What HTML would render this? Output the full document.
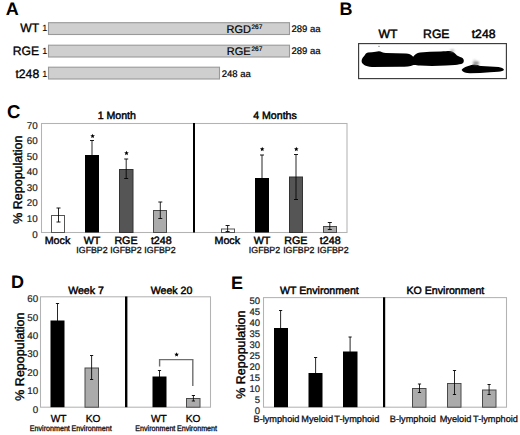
<!DOCTYPE html>
<html><head><meta charset="utf-8"><title>Figure</title>
<style>
html,body{margin:0;padding:0;background:#fff;}
svg{display:block;font-family:"Liberation Sans", sans-serif;text-rendering:geometricPrecision;}
</style></head>
<body>
<svg width="520" height="435" viewBox="0 0 520 435">
<defs><filter id="bl" x="-20%" y="-50%" width="140%" height="200%"><feGaussianBlur stdDeviation="0.45"/></filter><filter id="bl2" x="-100%" y="-100%" width="300%" height="300%"><feGaussianBlur stdDeviation="0.9"/></filter></defs>
<rect x="0" y="0" width="520" height="435" fill="#fff"/>
<text x="5.7" y="15" font-size="18" font-weight="bold" text-anchor="start" fill="#000">A</text>
<text x="39.2" y="31.7" font-size="12.2" text-anchor="end" fill="#000" stroke="#000" stroke-width="0.32">WT</text>
<text x="42.3" y="30.9" font-size="9" text-anchor="start" fill="#000" stroke="#000" stroke-width="0.1">1</text>
<rect x="48.5" y="22.7" width="241" height="11.8" fill="#cfcfcf" stroke="#999" stroke-width="1.1"/>
<text x="39.2" y="55.2" font-size="12.2" text-anchor="end" fill="#000" stroke="#000" stroke-width="0.32">RGE</text>
<text x="42.3" y="54.400000000000006" font-size="9" text-anchor="start" fill="#000" stroke="#000" stroke-width="0.1">1</text>
<rect x="48.5" y="45.2" width="241" height="11.8" fill="#cfcfcf" stroke="#999" stroke-width="1.1"/>
<text x="39.2" y="77.6" font-size="12.2" text-anchor="end" fill="#000" stroke="#000" stroke-width="0.32">t248</text>
<text x="42.3" y="76.8" font-size="9" text-anchor="start" fill="#000" stroke="#000" stroke-width="0.1">1</text>
<rect x="48.5" y="67.2" width="171" height="11.8" fill="#cfcfcf" stroke="#999" stroke-width="1.1"/>
<text x="226.6" y="33" font-size="11" text-anchor="start" fill="#000" stroke="#000" stroke-width="0.2">RGD</text>
<text x="251.5" y="29" font-size="6.5" text-anchor="start" fill="#000" stroke="#000" stroke-width="0.2">267</text>
<text x="226.8" y="55.3" font-size="11" text-anchor="start" fill="#000" stroke="#000" stroke-width="0.2">RGE</text>
<text x="251.5" y="51.3" font-size="6.5" text-anchor="start" fill="#000" stroke="#000" stroke-width="0.2">267</text>
<text x="291.5" y="32" font-size="9.5" text-anchor="start" fill="#000" stroke="#000" stroke-width="0.2">289 aa</text>
<text x="291.5" y="54.3" font-size="9.5" text-anchor="start" fill="#000" stroke="#000" stroke-width="0.2">289 aa</text>
<text x="221.8" y="77" font-size="9.5" text-anchor="start" fill="#000" stroke="#000" stroke-width="0.2">248 aa</text>
<text x="339.5" y="14.5" font-size="18" font-weight="bold" text-anchor="start" fill="#000">B</text>
<text x="388" y="38.0" font-size="12.2" text-anchor="middle" fill="#000" stroke="#000" stroke-width="0.45">WT</text>
<text x="436.3" y="38.0" font-size="12.2" text-anchor="middle" fill="#000" stroke="#000" stroke-width="0.45">RGE</text>
<text x="483.6" y="38" font-size="12.2" text-anchor="middle" fill="#000" stroke="#000" stroke-width="0.45">t248</text>
<rect x="358.6" y="43.6" width="147.8" height="35" fill="none" stroke="#3a3a3a" stroke-width="1.15"/>
<path d="M361.6,61 C361.6,59.2 362.6,57.6 364,56.2 C365.4,54.6 365.8,53 368,52.6 L372,52.3 C375,52.1 377,51.1 379,51.2 C381,51.4 383,52.8 386,53 L396,53.2 L406,53.6 C409,53.8 411,54.5 413.2,56.8 C414.8,54.4 416.8,53 420,52.5 L430,51.8 L441,51.5 C445,51.3 448,51 451,51.1 C453.5,51.6 455,53.6 457,55.4 C459,56.6 461.5,57.2 462.8,58.2 C464.2,59.6 464.2,62 462.8,63.2 C461,64.2 458,64.6 455,64.9 C452,65.2 449,65.3 446,65.5 L432,66 L420,65.6 C416.5,65.2 414.5,64.6 412.8,65.2 C410.5,66.2 406,66.7 400,66.7 L372,66.9 C368.5,66.7 366,66 364.2,64.9 C362.6,63.9 361.6,62.6 361.6,61 Z" fill="#000" filter="url(#bl)"/>
<path d="M461.6,70 C462.2,68.6 464.5,67.2 467.5,66.2 C469.5,65.4 471.5,64.5 474.5,64.4 C477,64.4 478.8,65.5 481,66 L490,66.4 L498.5,67 C501.5,67.4 503.3,68.4 504,69.7 C503.6,70.7 501.5,71.3 498,71.7 L490,72.3 L480,72.9 L470,73.3 C466,73.2 463,72.2 461.6,70 Z" fill="#000" filter="url(#bl)"/>
<ellipse cx="452.2" cy="50.6" rx="2.2" ry="1.2" fill="#aaa" filter="url(#bl2)"/>
<ellipse cx="476" cy="63" rx="3.2" ry="1.8" fill="#888" filter="url(#bl2)"/>
<ellipse cx="474.6" cy="60.5" rx="0.8" ry="1.0" fill="#bbb" filter="url(#bl2)"/>
<ellipse cx="379" cy="46.3" rx="0.8" ry="0.5" fill="#777"/>
<text x="6.9" y="117.9" font-size="18.5" font-weight="bold" text-anchor="start" fill="#000">C</text>
<rect x="41.5" y="123.5" width="305.5" height="109.0" fill="none" stroke="#b3b3b3" stroke-width="1.05"/>
<text x="37.6" y="237.6" font-size="9.8" text-anchor="end" fill="#222" stroke="#222" stroke-width="0.2">0</text>
<text x="37.6" y="222.03" font-size="9.8" text-anchor="end" fill="#222" stroke="#222" stroke-width="0.2">10</text>
<text x="37.6" y="206.46" font-size="9.8" text-anchor="end" fill="#222" stroke="#222" stroke-width="0.2">20</text>
<text x="37.6" y="190.89" font-size="9.8" text-anchor="end" fill="#222" stroke="#222" stroke-width="0.2">30</text>
<text x="37.6" y="175.31" font-size="9.8" text-anchor="end" fill="#222" stroke="#222" stroke-width="0.2">40</text>
<text x="37.6" y="159.74" font-size="9.8" text-anchor="end" fill="#222" stroke="#222" stroke-width="0.2">50</text>
<text x="37.6" y="144.17" font-size="9.8" text-anchor="end" fill="#222" stroke="#222" stroke-width="0.2">60</text>
<text x="37.6" y="128.6" font-size="9.8" text-anchor="end" fill="#222" stroke="#222" stroke-width="0.2">70</text>
<text x="22.0" y="179.7" font-size="12.5" text-anchor="middle" fill="#000" stroke="#000" stroke-width="0.4" transform="rotate(-90 22.0 179.7)">% Repopulation</text>
<text x="116.8" y="119" font-size="10.6" text-anchor="middle" fill="#000" stroke="#000" stroke-width="0.45">1 Month</text>
<text x="275" y="119" font-size="10.6" text-anchor="middle" fill="#000" stroke="#000" stroke-width="0.45">4 Months</text>
<rect x="193" y="123.0" width="2" height="109.5" fill="#000"/>
<rect x="51.5" y="215.5" width="13" height="17.0" fill="#fff" stroke="#555" stroke-width="1"/>
<line x1="58.5" y1="208" x2="58.5" y2="222" stroke="#000" stroke-width="0.85"/>
<line x1="56.5" y1="208" x2="60.5" y2="208" stroke="#000" stroke-width="0.9"/>
<line x1="56.5" y1="222" x2="60.5" y2="222" stroke="#000" stroke-width="0.9"/>
<rect x="85" y="155" width="14" height="77.5" fill="#000"/>
<line x1="92" y1="140.5" x2="92" y2="169.5" stroke="#000" stroke-width="0.85"/>
<line x1="90.0" y1="140.5" x2="94.0" y2="140.5" stroke="#000" stroke-width="0.9"/>
<line x1="90.0" y1="169.5" x2="94.0" y2="169.5" stroke="#000" stroke-width="0.9"/>
<rect x="119.5" y="169.5" width="13.5" height="63.0" fill="#555" stroke="#333" stroke-width="1"/>
<line x1="126.2" y1="159" x2="126.2" y2="178.5" stroke="#000" stroke-width="0.85"/>
<line x1="124.2" y1="159" x2="128.2" y2="159" stroke="#000" stroke-width="0.9"/>
<line x1="124.2" y1="178.5" x2="128.2" y2="178.5" stroke="#000" stroke-width="0.9"/>
<rect x="153.5" y="210.5" width="13" height="22.0" fill="#ababab" stroke="#4a4a4a" stroke-width="1"/>
<line x1="160.3" y1="202" x2="160.3" y2="218.5" stroke="#000" stroke-width="0.85"/>
<line x1="158.3" y1="202" x2="162.3" y2="202" stroke="#000" stroke-width="0.9"/>
<line x1="158.3" y1="218.5" x2="162.3" y2="218.5" stroke="#000" stroke-width="0.9"/>
<polygon points="92.60,133.70 93.23,135.23 94.88,135.36 93.63,136.43 94.01,138.04 92.60,137.18 91.19,138.04 91.57,136.43 90.32,135.36 91.97,135.23" fill="#000"/>
<polygon points="126.50,150.80 127.13,152.33 128.78,152.46 127.53,153.53 127.91,155.14 126.50,154.28 125.09,155.14 125.47,153.53 124.22,152.46 125.87,152.33" fill="#000"/>
<rect x="221.5" y="229.0" width="13" height="3.5" fill="#fff" stroke="#555" stroke-width="1"/>
<line x1="227.6" y1="225.5" x2="227.6" y2="231.5" stroke="#000" stroke-width="0.85"/>
<line x1="225.6" y1="225.5" x2="229.6" y2="225.5" stroke="#000" stroke-width="0.9"/>
<line x1="225.6" y1="231.5" x2="229.6" y2="231.5" stroke="#000" stroke-width="0.9"/>
<rect x="255" y="178" width="14" height="54.5" fill="#000"/>
<line x1="262" y1="155" x2="262" y2="201" stroke="#000" stroke-width="0.85"/>
<line x1="260.0" y1="155" x2="264.0" y2="155" stroke="#000" stroke-width="0.9"/>
<line x1="260.0" y1="201" x2="264.0" y2="201" stroke="#000" stroke-width="0.9"/>
<rect x="289.5" y="177.0" width="13" height="55.5" fill="#555" stroke="#333" stroke-width="1"/>
<line x1="296" y1="154.5" x2="296" y2="199.5" stroke="#000" stroke-width="0.85"/>
<line x1="294.0" y1="154.5" x2="298.0" y2="154.5" stroke="#000" stroke-width="0.9"/>
<line x1="294.0" y1="199.5" x2="298.0" y2="199.5" stroke="#000" stroke-width="0.9"/>
<rect x="323.5" y="226.5" width="13" height="6.0" fill="#ababab" stroke="#4a4a4a" stroke-width="1"/>
<line x1="329.8" y1="222.5" x2="329.8" y2="229.5" stroke="#000" stroke-width="0.85"/>
<line x1="327.8" y1="222.5" x2="331.8" y2="222.5" stroke="#000" stroke-width="0.9"/>
<line x1="327.8" y1="229.5" x2="331.8" y2="229.5" stroke="#000" stroke-width="0.9"/>
<polygon points="262.20,146.80 262.83,148.33 264.48,148.46 263.23,149.53 263.61,151.14 262.20,150.28 260.79,151.14 261.17,149.53 259.92,148.46 261.57,148.33" fill="#000"/>
<polygon points="296.30,146.80 296.93,148.33 298.58,148.46 297.33,149.53 297.71,151.14 296.30,150.28 294.89,151.14 295.27,149.53 294.02,148.46 295.67,148.33" fill="#000"/>
<text x="57.5" y="244" font-size="10.7" text-anchor="middle" fill="#000" stroke="#000" stroke-width="0.42">Mock</text>
<text x="92" y="244" font-size="10.7" text-anchor="middle" fill="#000" stroke="#000" stroke-width="0.42">WT</text>
<text x="126" y="244" font-size="10.7" text-anchor="middle" fill="#000" stroke="#000" stroke-width="0.42">RGE</text>
<text x="161.3" y="244" font-size="10.7" text-anchor="middle" fill="#000" stroke="#000" stroke-width="0.42">t248</text>
<text x="227.3" y="244" font-size="10.7" text-anchor="middle" fill="#000" stroke="#000" stroke-width="0.42">Mock</text>
<text x="262" y="244" font-size="10.7" text-anchor="middle" fill="#000" stroke="#000" stroke-width="0.42">WT</text>
<text x="295.8" y="244" font-size="10.7" text-anchor="middle" fill="#000" stroke="#000" stroke-width="0.42">RGE</text>
<text x="330.2" y="244" font-size="10.7" text-anchor="middle" fill="#000" stroke="#000" stroke-width="0.42">t248</text>
<text x="92" y="252.6" font-size="8.8" text-anchor="middle" fill="#111" stroke="#111" stroke-width="0.3">IGFBP2</text>
<text x="126" y="252.6" font-size="8.8" text-anchor="middle" fill="#111" stroke="#111" stroke-width="0.3">IGFBP2</text>
<text x="160" y="252.6" font-size="8.8" text-anchor="middle" fill="#111" stroke="#111" stroke-width="0.3">IGFBP2</text>
<text x="264.5" y="252.6" font-size="8.8" text-anchor="middle" fill="#111" stroke="#111" stroke-width="0.3">IGFBP2</text>
<text x="298.8" y="252.6" font-size="8.8" text-anchor="middle" fill="#111" stroke="#111" stroke-width="0.3">IGFBP2</text>
<text x="333" y="252.6" font-size="8.8" text-anchor="middle" fill="#111" stroke="#111" stroke-width="0.3">IGFBP2</text>
<text x="11.0" y="287.5" font-size="18" font-weight="bold" text-anchor="start" fill="#000">D</text>
<rect x="40.5" y="296.8" width="170" height="110.39999999999998" fill="none" stroke="#b3b3b3" stroke-width="1.05"/>
<text x="38.2" y="412.5" font-size="9.8" text-anchor="end" fill="#222" stroke="#222" stroke-width="0.2">0</text>
<text x="38.2" y="394.1" font-size="9.8" text-anchor="end" fill="#222" stroke="#222" stroke-width="0.2">10</text>
<text x="38.2" y="375.7" font-size="9.8" text-anchor="end" fill="#222" stroke="#222" stroke-width="0.2">20</text>
<text x="38.2" y="357.3" font-size="9.8" text-anchor="end" fill="#222" stroke="#222" stroke-width="0.2">30</text>
<text x="38.2" y="338.9" font-size="9.8" text-anchor="end" fill="#222" stroke="#222" stroke-width="0.2">40</text>
<text x="38.2" y="320.5" font-size="9.8" text-anchor="end" fill="#222" stroke="#222" stroke-width="0.2">50</text>
<text x="38.2" y="302.1" font-size="9.8" text-anchor="end" fill="#222" stroke="#222" stroke-width="0.2">60</text>
<text x="23.6" y="356.6" font-size="12.5" text-anchor="middle" fill="#000" stroke="#000" stroke-width="0.4" transform="rotate(-90 23.6 356.6)">% Repopulation</text>
<text x="86" y="294" font-size="10.6" text-anchor="middle" fill="#000" stroke="#000" stroke-width="0.45">Week 7</text>
<text x="171.6" y="294" font-size="10.6" text-anchor="middle" fill="#000" stroke="#000" stroke-width="0.45">Week 20</text>
<rect x="125" y="296.5" width="2.4" height="110.69999999999997" fill="#000"/>
<rect x="50.5" y="320.5" width="14.0" height="86.69999999999999" fill="#000"/>
<line x1="57.5" y1="303.5" x2="57.5" y2="337.5" stroke="#000" stroke-width="0.85"/>
<line x1="55.9" y1="303.5" x2="59.1" y2="303.5" stroke="#000" stroke-width="0.9"/>
<line x1="55.9" y1="337.5" x2="59.1" y2="337.5" stroke="#000" stroke-width="0.9"/>
<rect x="85.0" y="368.0" width="13.5" height="39.19999999999999" fill="#ababab" stroke="#4a4a4a" stroke-width="1"/>
<line x1="91.6" y1="355.5" x2="91.6" y2="379.5" stroke="#000" stroke-width="0.85"/>
<line x1="90.0" y1="355.5" x2="93.19999999999999" y2="355.5" stroke="#000" stroke-width="0.9"/>
<line x1="90.0" y1="379.5" x2="93.19999999999999" y2="379.5" stroke="#000" stroke-width="0.9"/>
<rect x="152.5" y="376.5" width="14.0" height="30.69999999999999" fill="#000"/>
<line x1="159.5" y1="370.5" x2="159.5" y2="382.5" stroke="#000" stroke-width="0.85"/>
<line x1="157.9" y1="370.5" x2="161.1" y2="370.5" stroke="#000" stroke-width="0.9"/>
<line x1="157.9" y1="382.5" x2="161.1" y2="382.5" stroke="#000" stroke-width="0.9"/>
<rect x="186.5" y="398.5" width="13.5" height="8.699999999999989" fill="#ababab" stroke="#4a4a4a" stroke-width="1"/>
<line x1="193.4" y1="395.5" x2="193.4" y2="401" stroke="#000" stroke-width="0.85"/>
<line x1="191.8" y1="395.5" x2="195.0" y2="395.5" stroke="#000" stroke-width="0.9"/>
<line x1="191.8" y1="401" x2="195.0" y2="401" stroke="#000" stroke-width="0.9"/>
<path d="M159.6,366.5 V359.6 H192.8 V386" fill="none" stroke="#6f6f6f" stroke-width="1.4"/>
<polygon points="176.60,352.20 177.23,353.73 178.88,353.86 177.63,354.93 178.01,356.54 176.60,355.68 175.19,356.54 175.57,354.93 174.32,353.86 175.97,353.73" fill="#000"/>
<text x="58.6" y="422.1" font-size="10.2" text-anchor="middle" fill="#000" stroke="#000" stroke-width="0.3">WT</text>
<text x="93.2" y="422.1" font-size="10.2" text-anchor="middle" fill="#000" stroke="#000" stroke-width="0.3">KO</text>
<text x="158.8" y="422.1" font-size="10.2" text-anchor="middle" fill="#000" stroke="#000" stroke-width="0.3">WT</text>
<text x="193.1" y="422.1" font-size="10.2" text-anchor="middle" fill="#000" stroke="#000" stroke-width="0.3">KO</text>
<text transform="translate(49.8 430.5) scale(1 1.12)" font-size="7.15" text-anchor="middle" fill="#111" stroke="#111" stroke-width="0.3">Environment</text>
<text transform="translate(91.6 430.5) scale(1 1.12)" font-size="7.15" text-anchor="middle" fill="#111" stroke="#111" stroke-width="0.3">Environment</text>
<text transform="translate(155.3 430.5) scale(1 1.12)" font-size="7.15" text-anchor="middle" fill="#111" stroke="#111" stroke-width="0.3">Environment</text>
<text transform="translate(197 430.5) scale(1 1.12)" font-size="7.15" text-anchor="middle" fill="#111" stroke="#111" stroke-width="0.3">Environment</text>
<text x="231.0" y="288.9" font-size="18" font-weight="bold" text-anchor="start" fill="#000">E</text>
<rect x="263.5" y="297.6" width="243" height="109.59999999999997" fill="none" stroke="#b3b3b3" stroke-width="1.05"/>
<text x="260.0" y="413.7" font-size="9.5" text-anchor="end" fill="#222" stroke="#222" stroke-width="0.2">0</text>
<text x="260.0" y="402.74" font-size="9.5" text-anchor="end" fill="#222" stroke="#222" stroke-width="0.2">5</text>
<text x="260.0" y="391.78" font-size="9.5" text-anchor="end" fill="#222" stroke="#222" stroke-width="0.2">10</text>
<text x="260.0" y="380.82" font-size="9.5" text-anchor="end" fill="#222" stroke="#222" stroke-width="0.2">15</text>
<text x="260.0" y="369.86" font-size="9.5" text-anchor="end" fill="#222" stroke="#222" stroke-width="0.2">20</text>
<text x="260.0" y="358.9" font-size="9.5" text-anchor="end" fill="#222" stroke="#222" stroke-width="0.2">25</text>
<text x="260.0" y="347.94" font-size="9.5" text-anchor="end" fill="#222" stroke="#222" stroke-width="0.2">30</text>
<text x="260.0" y="336.98" font-size="9.5" text-anchor="end" fill="#222" stroke="#222" stroke-width="0.2">35</text>
<text x="260.0" y="326.02" font-size="9.5" text-anchor="end" fill="#222" stroke="#222" stroke-width="0.2">40</text>
<text x="260.0" y="315.06" font-size="9.5" text-anchor="end" fill="#222" stroke="#222" stroke-width="0.2">45</text>
<text x="260.0" y="304.1" font-size="9.5" text-anchor="end" fill="#222" stroke="#222" stroke-width="0.2">50</text>
<text x="245.5" y="354.7" font-size="12.5" text-anchor="middle" fill="#000" stroke="#000" stroke-width="0.4" transform="rotate(-90 245.5 354.7)">% Repopulation</text>
<text x="319.4" y="294.3" font-size="10.6" text-anchor="middle" fill="#000" stroke="#000" stroke-width="0.45">WT Environment</text>
<text x="445.4" y="294.3" font-size="10.6" text-anchor="middle" fill="#000" stroke="#000" stroke-width="0.45">KO Environment</text>
<rect x="383" y="297.3" width="2.2" height="109.89999999999996" fill="#000"/>
<rect x="274" y="328" width="14" height="79.19999999999999" fill="#000"/>
<line x1="280.6" y1="310.5" x2="280.6" y2="345.5" stroke="#000" stroke-width="0.85"/>
<line x1="279.0" y1="310.5" x2="282.20000000000005" y2="310.5" stroke="#000" stroke-width="0.9"/>
<line x1="279.0" y1="345.5" x2="282.20000000000005" y2="345.5" stroke="#000" stroke-width="0.9"/>
<rect x="308.5" y="373" width="14.0" height="34.19999999999999" fill="#000"/>
<line x1="315.6" y1="357.5" x2="315.6" y2="388.5" stroke="#000" stroke-width="0.85"/>
<line x1="314.0" y1="357.5" x2="317.20000000000005" y2="357.5" stroke="#000" stroke-width="0.9"/>
<line x1="314.0" y1="388.5" x2="317.20000000000005" y2="388.5" stroke="#000" stroke-width="0.9"/>
<rect x="343" y="351.5" width="14.5" height="55.69999999999999" fill="#000"/>
<line x1="350.1" y1="337" x2="350.1" y2="366" stroke="#000" stroke-width="0.85"/>
<line x1="348.5" y1="337" x2="351.70000000000005" y2="337" stroke="#000" stroke-width="0.9"/>
<line x1="348.5" y1="366" x2="351.70000000000005" y2="366" stroke="#000" stroke-width="0.9"/>
<rect x="412.5" y="388.5" width="13.5" height="18.69999999999999" fill="#ababab" stroke="#4a4a4a" stroke-width="1"/>
<line x1="419.5" y1="384" x2="419.5" y2="392.5" stroke="#000" stroke-width="0.85"/>
<line x1="417.9" y1="384" x2="421.1" y2="384" stroke="#000" stroke-width="0.9"/>
<line x1="417.9" y1="392.5" x2="421.1" y2="392.5" stroke="#000" stroke-width="0.9"/>
<rect x="447.5" y="383.5" width="13.5" height="23.69999999999999" fill="#ababab" stroke="#4a4a4a" stroke-width="1"/>
<line x1="454.5" y1="370.5" x2="454.5" y2="394.5" stroke="#000" stroke-width="0.85"/>
<line x1="452.9" y1="370.5" x2="456.1" y2="370.5" stroke="#000" stroke-width="0.9"/>
<line x1="452.9" y1="394.5" x2="456.1" y2="394.5" stroke="#000" stroke-width="0.9"/>
<rect x="482.5" y="390.0" width="13.5" height="17.19999999999999" fill="#ababab" stroke="#4a4a4a" stroke-width="1"/>
<line x1="489.1" y1="384.5" x2="489.1" y2="394.5" stroke="#000" stroke-width="0.85"/>
<line x1="487.5" y1="384.5" x2="490.70000000000005" y2="384.5" stroke="#000" stroke-width="0.9"/>
<line x1="487.5" y1="394.5" x2="490.70000000000005" y2="394.5" stroke="#000" stroke-width="0.9"/>
<text x="276.5" y="421.6" font-size="9.2" text-anchor="middle" fill="#111" stroke="#111" stroke-width="0.3">B-lymphoid</text>
<text x="317.2" y="421.6" font-size="9.2" text-anchor="middle" fill="#111" stroke="#111" stroke-width="0.3">Myeloid</text>
<text x="356.8" y="421.6" font-size="9.2" text-anchor="middle" fill="#111" stroke="#111" stroke-width="0.3">T-lymphoid</text>
<text x="412.8" y="421.6" font-size="9.2" text-anchor="middle" fill="#111" stroke="#111" stroke-width="0.3">B-lymphoid</text>
<text x="455.5" y="421.6" font-size="9.2" text-anchor="middle" fill="#111" stroke="#111" stroke-width="0.3">Myeloid</text>
<text x="495.5" y="421.6" font-size="9.2" text-anchor="middle" fill="#111" stroke="#111" stroke-width="0.3">T-lymphoid</text>
</svg>
</body></html>
